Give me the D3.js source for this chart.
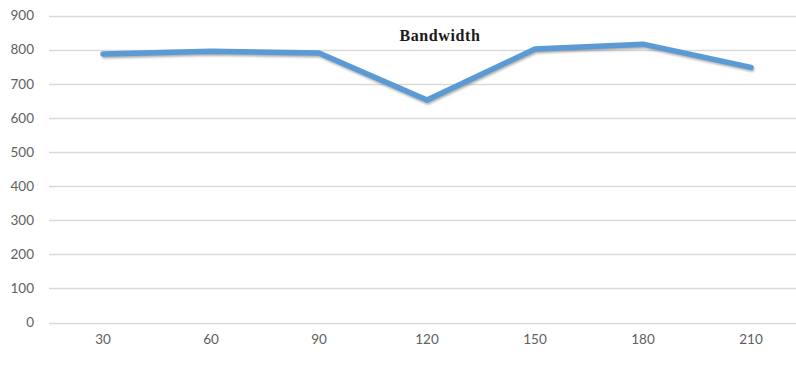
<!DOCTYPE html>
<html><head><meta charset="utf-8">
<script src="https://cdn.jsdelivr.net/npm/d3@7"></script>
<style>body{margin:0;background:#fff;}svg{display:block;}</style>
</head><body>
<script>
const categories = ["30","60","90","120","150","180","210"];
const bandwidth = [787, 795, 790, 652, 802, 816, 748];
const yTicks = [0,100,200,300,400,500,600,700,800,900];
const title = "Bandwidth";

const W = 796, H = 367;
const svg = d3.select("body").append("svg").attr("width", W).attr("height", H);
const defs = svg.append("defs");
const f = defs.append("filter").attr("id","sh").attr("x","-10%").attr("y","-50%").attr("width","120%").attr("height","200%");
f.append("feGaussianBlur").attr("stdDeviation", 1.2);

const x = d3.scaleBand().domain(categories).range([49, 805]);
const y = d3.scaleLinear().domain([0, 900]).range([322.5, 15.5]);

const grid = svg.append("g");
grid.selectAll("line").data(yTicks).join("line")
  .attr("x1", 49).attr("x2", 805)
  .attr("y1", d => Math.round(y(d)) + 0.5).attr("y2", d => Math.round(y(d)) + 0.5)
  .attr("stroke", "#d9d9d9").attr("stroke-width", 1.4);

const yAxis = svg.append("g").attr("transform", "translate(34,0)")
  .call(d3.axisLeft(y).tickValues(yTicks).tickSize(0).tickPadding(0));
yAxis.select(".domain").remove();
yAxis.selectAll("text").attr("fill", "#606060").style("font-family", "Lato, 'Open Sans', sans-serif").style("font-size", "13.5px");

const xAxis = svg.append("g").attr("transform", "translate(0,334)")
  .call(d3.axisBottom(x).tickSize(0).tickPadding(0));
xAxis.select(".domain").remove();
xAxis.selectAll("text").attr("fill", "#606060").style("font-family", "Lato, 'Open Sans', sans-serif").style("font-size", "13.5px");

const line = d3.line().x((d,i) => x(categories[i]) + x.bandwidth()/2).y(d => y(d));

svg.append("path").datum(bandwidth).attr("d", line)
  .attr("transform", "translate(1,2)")
  .attr("fill", "none").attr("stroke", "#6b6b6b").attr("stroke-opacity", 0.55)
  .attr("stroke-width", 5).attr("stroke-linejoin", "round").attr("stroke-linecap", "round")
  .attr("filter", "url(#sh)");
svg.append("path").datum(bandwidth).attr("d", line)
  .attr("fill", "none").attr("stroke", "#5b9bd5")
  .attr("stroke-width", 5.5).attr("stroke-linejoin", "round").attr("stroke-linecap", "round");

svg.append("text").attr("x", 440).attr("y", 41).attr("text-anchor", "middle")
  .style("font-family", "'Liberation Serif', 'DejaVu Serif', serif").style("font-weight", "bold")
  .style("font-size", "16px").style("letter-spacing", "0.6px").attr("fill", "#1a1a1a")
  .text(title);
</script>
</body></html>
